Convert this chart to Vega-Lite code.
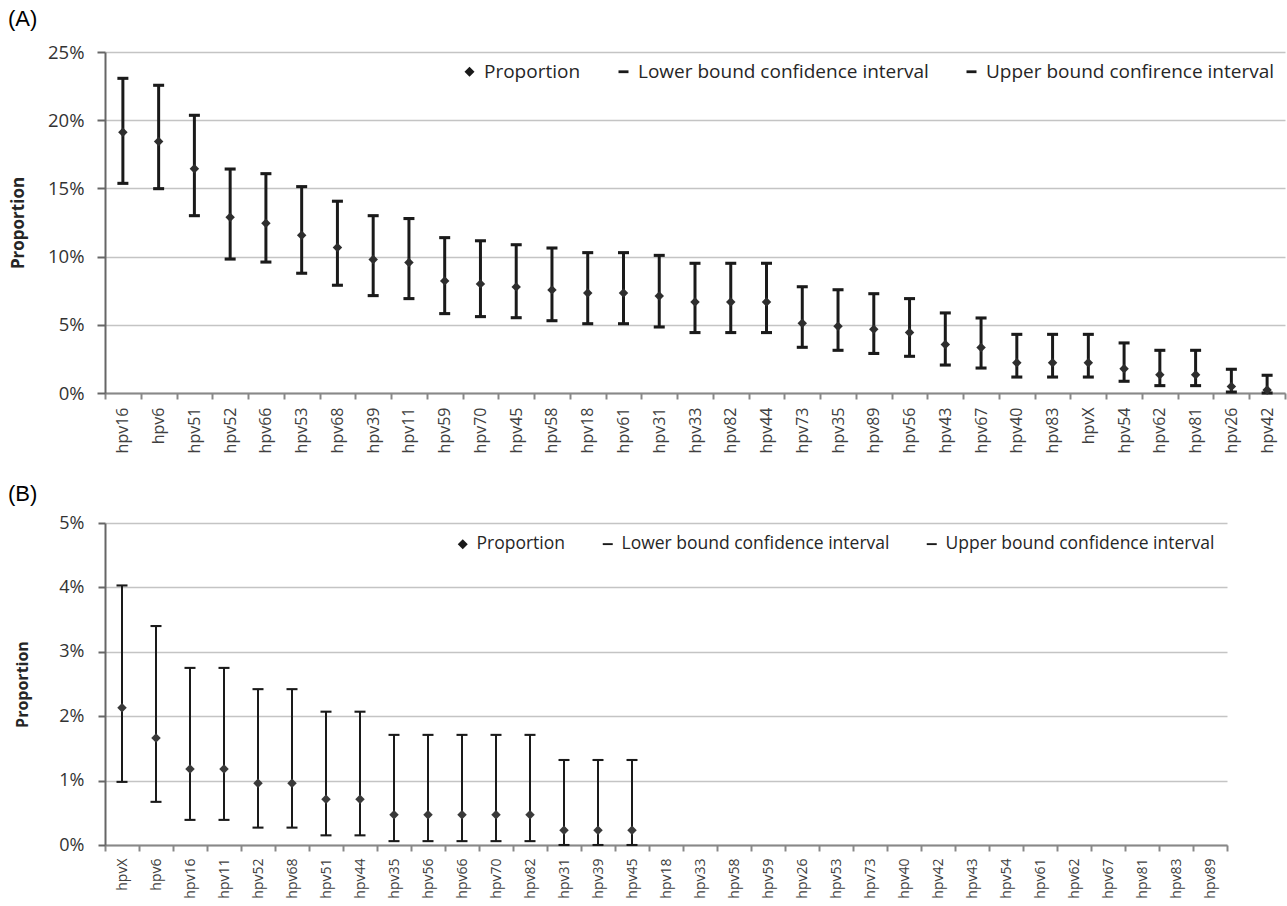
{
  "$schema": "https://vega.github.io/schema/vega-lite/v6.json",
  "background": "white",
  "bounds": "flush",
  "spacing": 130,
  "padding": {"left": 8, "top": 8, "right": 2, "bottom": 4},
  "config": {"view": {"stroke": null}, "font": "Open Sans"},
  "resolve": {
    "scale": {"x": "independent", "y": "independent", "shape": "independent"},
    "legend": {"shape": "independent"}
  },
  "vconcat": [
    {
      "width": 1180,
      "height": 341,
      "title": {"text": "(A)", "anchor": "start", "frame": "group", "dx": -97, "offset": 12, "fontSize": 22, "fontWeight": "normal", "font": "Liberation Sans", "color": "#000000"},
      "data": {"values": [
        {"hpv": "hpv16", "p": 0.1911, "lo": 0.1537, "hi": 0.2307},
        {"hpv": "hpv6", "p": 0.1844, "lo": 0.1498, "hi": 0.2256},
        {"hpv": "hpv51", "p": 0.1644, "lo": 0.1300, "hi": 0.2036},
        {"hpv": "hpv52", "p": 0.1289, "lo": 0.0982, "hi": 0.1642},
        {"hpv": "hpv66", "p": 0.1244, "lo": 0.0960, "hi": 0.1608},
        {"hpv": "hpv53", "p": 0.1156, "lo": 0.0878, "hi": 0.1513},
        {"hpv": "hpv68", "p": 0.1067, "lo": 0.0790, "hi": 0.1406},
        {"hpv": "hpv39", "p": 0.0978, "lo": 0.0714, "hi": 0.1300},
        {"hpv": "hpv11", "p": 0.0956, "lo": 0.0692, "hi": 0.1279},
        {"hpv": "hpv59", "p": 0.0822, "lo": 0.0582, "hi": 0.1139},
        {"hpv": "hpv70", "p": 0.0800, "lo": 0.0560, "hi": 0.1116},
        {"hpv": "hpv45", "p": 0.0778, "lo": 0.0552, "hi": 0.1087},
        {"hpv": "hpv58", "p": 0.0756, "lo": 0.0530, "hi": 0.1063},
        {"hpv": "hpv18", "p": 0.0733, "lo": 0.0508, "hi": 0.1029},
        {"hpv": "hpv61", "p": 0.0733, "lo": 0.0508, "hi": 0.1029},
        {"hpv": "hpv31", "p": 0.0711, "lo": 0.0484, "hi": 0.1009},
        {"hpv": "hpv33", "p": 0.0667, "lo": 0.0443, "hi": 0.0951},
        {"hpv": "hpv82", "p": 0.0667, "lo": 0.0443, "hi": 0.0951},
        {"hpv": "hpv44", "p": 0.0667, "lo": 0.0443, "hi": 0.0951},
        {"hpv": "hpv73", "p": 0.0511, "lo": 0.0335, "hi": 0.0779},
        {"hpv": "hpv35", "p": 0.0489, "lo": 0.0313, "hi": 0.0757},
        {"hpv": "hpv89", "p": 0.0467, "lo": 0.0290, "hi": 0.0728},
        {"hpv": "hpv56", "p": 0.0444, "lo": 0.0269, "hi": 0.0692},
        {"hpv": "hpv43", "p": 0.0356, "lo": 0.0205, "hi": 0.0587},
        {"hpv": "hpv67", "p": 0.0333, "lo": 0.0183, "hi": 0.0550},
        {"hpv": "hpv40", "p": 0.0222, "lo": 0.0117, "hi": 0.0430},
        {"hpv": "hpv83", "p": 0.0222, "lo": 0.0117, "hi": 0.0430},
        {"hpv": "hpvX", "p": 0.0222, "lo": 0.0117, "hi": 0.0430},
        {"hpv": "hpv54", "p": 0.0178, "lo": 0.0086, "hi": 0.0367},
        {"hpv": "hpv62", "p": 0.0133, "lo": 0.0054, "hi": 0.0313},
        {"hpv": "hpv81", "p": 0.0133, "lo": 0.0054, "hi": 0.0313},
        {"hpv": "hpv26", "p": 0.0048, "lo": 0.0007, "hi": 0.0174},
        {"hpv": "hpv42", "p": 0.0022, "lo": 0.0000, "hi": 0.0130}
      ]},
      "layer": [
        {
          "mark": {"type": "rule", "strokeWidth": 3, "color": "#1a1a1a"},
          "encoding": {
            "x": {"field": "hpv", "type": "nominal",
              "scale": {"type": "band", "paddingInner": 0, "paddingOuter": 0,
                "domain": ["hpv16","hpv6","hpv51","hpv52","hpv66","hpv53","hpv68","hpv39","hpv11","hpv59","hpv70","hpv45","hpv58","hpv18","hpv61","hpv31","hpv33","hpv82","hpv44","hpv73","hpv35","hpv89","hpv56","hpv43","hpv67","hpv40","hpv83","hpvX","hpv54","hpv62","hpv81","hpv26","hpv42"]},
              "axis": {"title": null, "labelAngle": -90, "labelFontSize": 16, "labelColor": "#404040", "tickBand": "extent", "tickSize": 6, "tickColor": "#888888", "tickWidth": 2, "domainColor": "#888888", "domainWidth": 2, "labelPadding": 8, "grid": false}},
            "y": {"field": "lo", "type": "quantitative",
              "scale": {"domain": [0, 0.25], "nice": false},
              "axis": {"title": "Proportion", "format": ".0%", "values": [0, 0.05, 0.1, 0.15, 0.2, 0.25], "labelFontSize": 18.5, "labelColor": "#333333", "titleFontSize": 17, "titleFontWeight": "bold", "titleColor": "#262626", "titlePadding": 20, "tickSize": 8, "labelPadding": 13, "grid": true, "gridColor": "#c4c4c4", "gridWidth": 1.5, "domainColor": "#666666", "domainWidth": 2, "tickColor": "#666666", "tickWidth": 2}},
            "y2": {"field": "hi"}
          }
        },
        {
          "transform": [{"fold": ["p", "lo", "hi"], "as": ["series", "value"]}, {"filter": "datum.series != 'p'"}],
          "mark": {"type": "point", "filled": true, "opacity": 1, "color": "#1a1a1a", "strokeWidth": 0, "size": 121},
          "encoding": {
            "x": {"field": "hpv", "type": "nominal"},
            "y": {"field": "value", "type": "quantitative"},
            "shape": {"field": "series", "type": "nominal",
              "scale": {"domain": ["p", "lo", "hi"], "range": ["diamond", "M-1,-0.28L1,-0.28L1,0.28L-1,0.28Z", "M-1,-0.28L1,-0.28L1,0.28L-1,0.28Z"]},
              "legend": {"title": null, "orient": "top-right", "direction": "horizontal", "offset": 10, "labelFontSize": 19, "labelColor": "#262626", "labelLimit": 500,
                "labelExpr": "datum.value == 'p' ? 'Proportion' : datum.value == 'lo' ? 'Lower bound confidence interval' : 'Upper bound confirence interval'",
                "symbolSize": 100, "symbolFillColor": "#262626", "symbolStrokeWidth": 0, "symbolOpacity": 1, "columnPadding": 33, "labelOffset": 5, "padding": 0}}
          }
        },
        {
          "transform": [{"fold": ["p", "lo", "hi"], "as": ["series", "value"]}, {"filter": "datum.series == 'p'"}],
          "mark": {"type": "point", "filled": true, "opacity": 1, "color": "#2e2e2e", "strokeWidth": 0, "size": 90},
          "encoding": {
            "x": {"field": "hpv", "type": "nominal"},
            "y": {"field": "value", "type": "quantitative"},
            "shape": {"field": "series", "type": "nominal"}
          }
        }
      ]
    },
    {
      "width": 1122,
      "height": 322,
      "title": {"text": "(B)", "anchor": "start", "frame": "group", "dx": -97, "offset": 8, "fontSize": 22, "fontWeight": "normal", "font": "Liberation Sans", "color": "#000000"},
      "data": {"values": [
        {"hpv": "hpvX", "p": 0.0213, "lo": 0.0098, "hi": 0.0403},
        {"hpv": "hpv6", "p": 0.0166, "lo": 0.0067, "hi": 0.0340},
        {"hpv": "hpv16", "p": 0.0118, "lo": 0.0039, "hi": 0.0275},
        {"hpv": "hpv11", "p": 0.0118, "lo": 0.0039, "hi": 0.0275},
        {"hpv": "hpv52", "p": 0.0096, "lo": 0.0027, "hi": 0.0242},
        {"hpv": "hpv68", "p": 0.0096, "lo": 0.0027, "hi": 0.0242},
        {"hpv": "hpv51", "p": 0.0071, "lo": 0.0015, "hi": 0.0207},
        {"hpv": "hpv44", "p": 0.0071, "lo": 0.0015, "hi": 0.0207},
        {"hpv": "hpv35", "p": 0.0047, "lo": 0.0006, "hi": 0.0171},
        {"hpv": "hpv56", "p": 0.0047, "lo": 0.0006, "hi": 0.0171},
        {"hpv": "hpv66", "p": 0.0047, "lo": 0.0006, "hi": 0.0171},
        {"hpv": "hpv70", "p": 0.0047, "lo": 0.0006, "hi": 0.0171},
        {"hpv": "hpv82", "p": 0.0047, "lo": 0.0006, "hi": 0.0171},
        {"hpv": "hpv31", "p": 0.0023, "lo": 0.0000, "hi": 0.0132},
        {"hpv": "hpv39", "p": 0.0023, "lo": 0.0000, "hi": 0.0132},
        {"hpv": "hpv45", "p": 0.0023, "lo": 0.0000, "hi": 0.0132},
        {"hpv": "hpv18"}, {"hpv": "hpv33"}, {"hpv": "hpv58"}, {"hpv": "hpv59"},
        {"hpv": "hpv26"}, {"hpv": "hpv53"}, {"hpv": "hpv73"}, {"hpv": "hpv40"},
        {"hpv": "hpv42"}, {"hpv": "hpv43"}, {"hpv": "hpv54"}, {"hpv": "hpv61"},
        {"hpv": "hpv62"}, {"hpv": "hpv67"}, {"hpv": "hpv81"}, {"hpv": "hpv83"},
        {"hpv": "hpv89"}
      ]},
      "layer": [
        {
          "mark": {"type": "rule", "strokeWidth": 2, "color": "#1a1a1a"},
          "encoding": {
            "x": {"field": "hpv", "type": "nominal",
              "scale": {"type": "band", "paddingInner": 0, "paddingOuter": 0,
                "domain": ["hpvX","hpv6","hpv16","hpv11","hpv52","hpv68","hpv51","hpv44","hpv35","hpv56","hpv66","hpv70","hpv82","hpv31","hpv39","hpv45","hpv18","hpv33","hpv58","hpv59","hpv26","hpv53","hpv73","hpv40","hpv42","hpv43","hpv54","hpv61","hpv62","hpv67","hpv81","hpv83","hpv89"]},
              "axis": {"title": null, "labelAngle": -90, "labelFontSize": 14, "labelColor": "#404040", "tickBand": "extent", "tickSize": 6, "tickColor": "#888888", "tickWidth": 2, "domainColor": "#888888", "domainWidth": 2, "labelPadding": 7, "grid": false}},
            "y": {"field": "lo", "type": "quantitative",
              "scale": {"domain": [0, 0.05], "nice": false},
              "axis": {"title": "Proportion", "format": ".0%", "values": [0, 0.01, 0.02, 0.03, 0.04, 0.05], "labelFontSize": 18, "labelColor": "#333333", "titleFontSize": 16, "titleFontWeight": "bold", "titleColor": "#262626", "titlePadding": 28, "tickSize": 7, "labelPadding": 14, "grid": true, "gridColor": "#c4c4c4", "gridWidth": 1.5, "domainColor": "#666666", "domainWidth": 2, "tickColor": "#666666", "tickWidth": 2}},
            "y2": {"field": "hi"}
          }
        },
        {
          "transform": [{"fold": ["p", "lo", "hi"], "as": ["series", "value"]}, {"filter": "datum.series != 'p'"}],
          "mark": {"type": "point", "filled": true, "opacity": 1, "color": "#1a1a1a", "strokeWidth": 0, "size": 121},
          "encoding": {
            "x": {"field": "hpv", "type": "nominal"},
            "y": {"field": "value", "type": "quantitative"},
            "shape": {"field": "series", "type": "nominal",
              "scale": {"domain": ["p", "lo", "hi"], "range": ["diamond", "M-1,-0.19L1,-0.19L1,0.19L-1,0.19Z", "M-1,-0.19L1,-0.19L1,0.19L-1,0.19Z"]},
              "legend": {"title": null, "orient": "top-right", "direction": "horizontal", "offset": 12, "labelFontSize": 17.5, "labelColor": "#262626", "labelLimit": 500,
                "labelExpr": "datum.value == 'p' ? 'Proportion' : datum.value == 'lo' ? 'Lower bound confidence interval' : 'Upper bound confidence interval'",
                "symbolSize": 100, "symbolFillColor": "#262626", "symbolStrokeWidth": 0, "symbolOpacity": 1, "columnPadding": 33, "labelOffset": 5, "padding": 0}}
          }
        },
        {
          "transform": [{"fold": ["p", "lo", "hi"], "as": ["series", "value"]}, {"filter": "datum.series == 'p'"}],
          "mark": {"type": "point", "filled": true, "opacity": 1, "color": "#3a3a3a", "strokeWidth": 0, "size": 90},
          "encoding": {
            "x": {"field": "hpv", "type": "nominal"},
            "y": {"field": "value", "type": "quantitative"},
            "shape": {"field": "series", "type": "nominal"}
          }
        }
      ]
    }
  ]
}
